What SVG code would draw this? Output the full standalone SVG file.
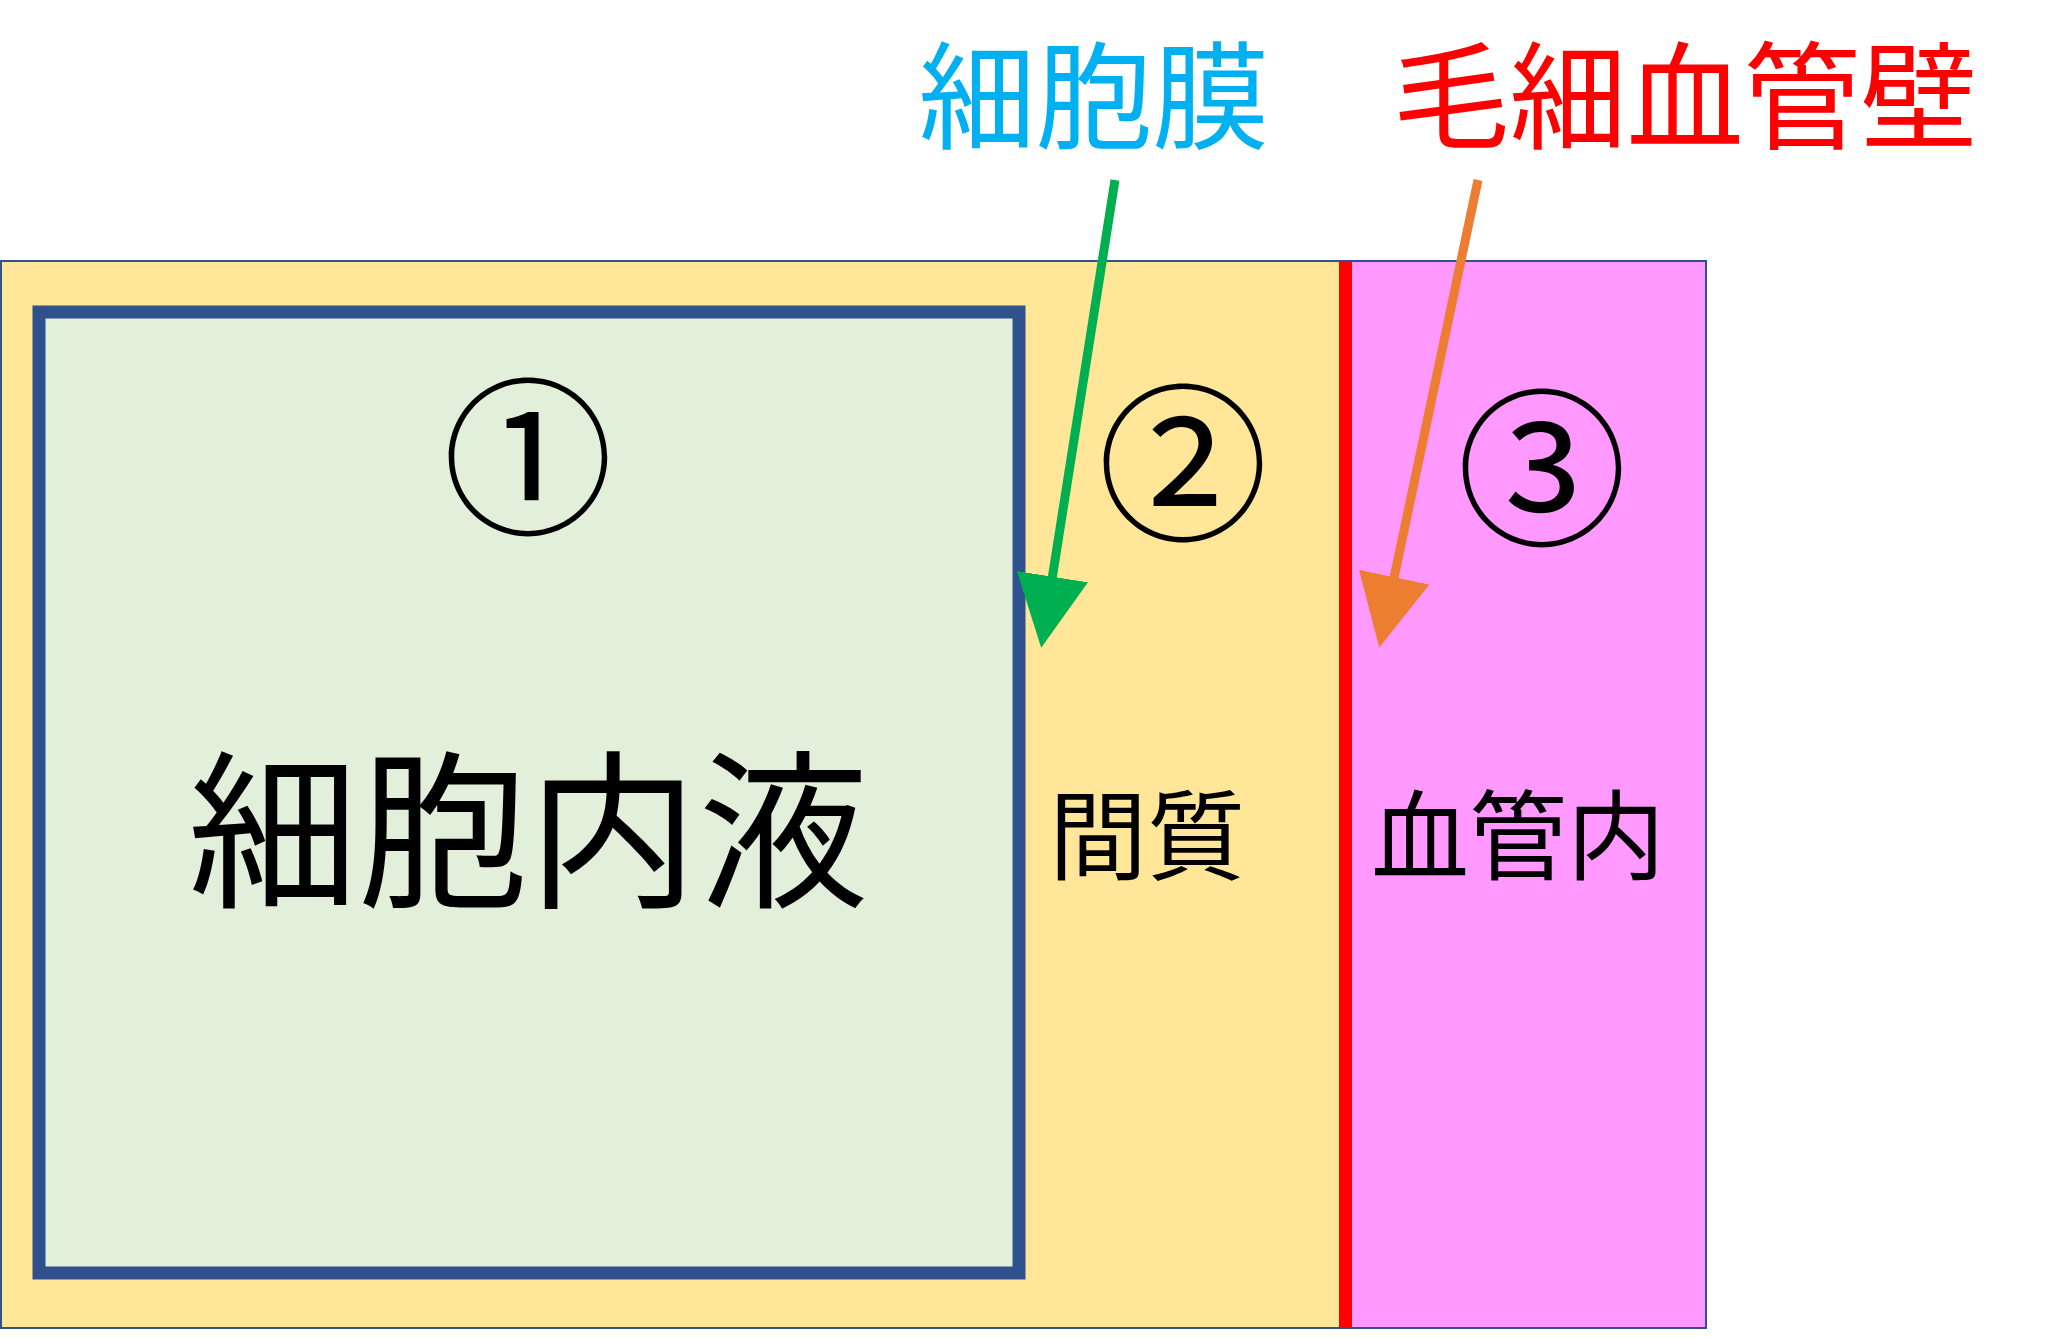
<svg xmlns="http://www.w3.org/2000/svg" width="2048" height="1338" viewBox="0 0 2048 1338">
<style>
.t{font-family:"Noto Sans CJK JP","Noto Sans",sans-serif;text-anchor:middle;fill:#000}
.n{font-family:"Noto Sans CJK JP","DejaVu Sans",sans-serif;text-anchor:middle;fill:#000;font-size:170px}
</style>
<defs>
<marker id="ag" markerWidth="8" markerHeight="8" refX="6" refY="4" orient="auto" markerUnits="strokeWidth"><path d="M0,0 L8,4 L0,8 Z" fill="#00B050"/></marker>
<marker id="ao" markerWidth="8" markerHeight="8" refX="6" refY="4" orient="auto" markerUnits="strokeWidth"><path d="M0,0 L8,4 L0,8 Z" fill="#ED7D31"/></marker>
</defs>
<rect width="2048" height="1338" fill="#fff"/>
<g id="interstitial"><rect x="1" y="261" width="1705" height="1067" fill="#FFE699" stroke="#2F528F" stroke-width="2"/>
<text class="n" x="1183" y="528">②</text>
<text class="t" x="1147" y="872" font-size="98">間質</text></g>
<g id="vessel"><rect x="1345" y="261" width="361" height="1067" fill="#FF99FF" stroke="#2F528F" stroke-width="2"/>
<rect x="1339" y="261" width="13" height="1067" fill="#FF0000"/>
<text class="n" x="1542" y="533">③</text>
<text class="t" x="1518" y="872" font-size="98">血管内</text></g>
<g id="cell"><rect x="39" y="312" width="980" height="961" fill="#E2EFDA" stroke="#2F528F" stroke-width="13"/>
<text class="n" x="528" y="522">①</text>
<text class="t" x="528" y="895" font-size="170">細胞内液</text></g>
<g id="labels">
<text class="t" x="1094" y="140" font-size="117" fill="#00B0F0" style="fill:#00B0F0">細胞膜</text>
<text class="t" x="1685" y="140" font-size="117" style="fill:#FF0000">毛細血管壁</text></g>
<g id="connectors">
<line x1="1115" y1="180" x2="1044" y2="630" stroke="#00B050" stroke-width="9" marker-end="url(#ag)"/>
<line x1="1478" y1="180" x2="1383" y2="630" stroke="#ED7D31" stroke-width="9" marker-end="url(#ao)"/>
</g>
</svg>
